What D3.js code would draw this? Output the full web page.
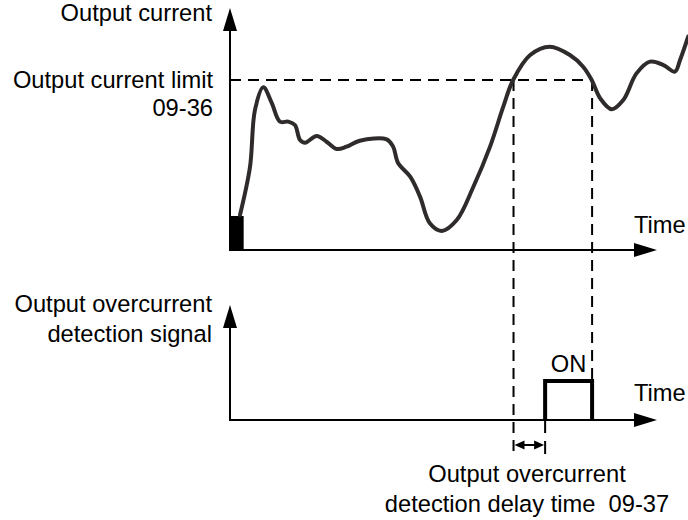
<!DOCTYPE html>
<html>
<head>
<meta charset="utf-8">
<script src="https://cdn.jsdelivr.net/npm/d3@7"></script>
<style>
  html, body { margin: 0; padding: 0; background: #fff; }
  svg text { font-family: "Liberation Sans", Arial, sans-serif; font-size: 23.7px; fill: #000; white-space: pre; }
</style>
</head>
<body>
<svg id="chart" width="688" height="520"></svg>
<script>
// Output current over time (percent of the current limit setting 09-36)
const currentTime  = [2.34, 4.68, 5.85, 7.8, 9.77, 11.7, 13.65, 15.2, 16.4, 17.6, 20.3, 22.6, 25.0, 27.3, 30.4, 36.7, 38.2, 39.4, 42.2, 44.5, 46.8, 49.6, 53.1, 57.0, 60.9, 64.0, 66.3, 70.3, 74.9, 79.6, 82.7, 84.7, 86.7, 89.4, 92.1, 95.2, 98.4, 101.5, 104.2, 105.4, 107.3];
const currentValue = [20.6, 48.8, 82.4, 95.7, 86.5, 75.5, 75.5, 73.5, 64.7, 63.1, 67.1, 63.7, 59.4, 60.8, 64.3, 65.1, 60.8, 51.0, 43.1, 31.4, 15.7, 11.2, 17.6, 37.2, 60.8, 84.3, 100, 114.7, 119.6, 114.7, 107.8, 100, 89.2, 82.8, 88.2, 103.9, 110.8, 108.8, 104.9, 111.8, 125.5];

const currentLimit = 100;          // 09-36
const startBlock = [0, 3.2, 20];   // t0, t1, level of the start-up block
const overLimitStart = 66.4;       // current rises above the limit
const overLimitEnd = 84.8;         // current falls back below the limit
const detectionDelay = 7.4;        // 09-37

// Overcurrent detection signal (0 = OFF, 1 = ON)
const signalTime  = [overLimitStart + detectionDelay, overLimitStart + detectionDelay, overLimitEnd, overLimitEnd];
const signalValue = [0, 1, 1, 0];

const svg = d3.select("#chart");

const x = d3.scaleLinear().domain([0, 100]).range([230, 657]);
const yCur = d3.scaleLinear().domain([0, 100]).range([250, 80]);
const ySig = d3.scaleLinear().domain([0, 1]).range([420, 381]);

const yCurTop = 8, ySigTop = 305;
const x0 = x(0), xEnd = x(100);

// arrowheads
function arrowUp(xp, tip) {
  svg.append("path").attr("d", `M${xp},${tip} L${xp - 7},${tip + 23} L${xp + 7},${tip + 23} Z`).attr("fill", "#000");
}
function arrowRight(tip, yp) {
  svg.append("path").attr("d", `M${tip},${yp} L${tip - 23},${yp - 7} L${tip - 23},${yp + 7} Z`).attr("fill", "#000");
}

// ---- top: output current ----
svg.append("line").attr("x1", x0).attr("x2", x0).attr("y1", yCur(0) + 1).attr("y2", yCurTop + 20)
  .attr("stroke", "#000").attr("stroke-width", 2);
svg.append("line").attr("x1", x0 - 1).attr("x2", xEnd - 20).attr("y1", yCur(0)).attr("y2", yCur(0))
  .attr("stroke", "#000").attr("stroke-width", 2);
arrowUp(x0, yCurTop);
arrowRight(xEnd, yCur(0));

// start-up block
svg.append("rect")
  .attr("x", x(startBlock[0]) - 1).attr("y", yCur(startBlock[2]))
  .attr("width", x(startBlock[1]) - x(startBlock[0]) + 1)
  .attr("height", yCur(0) - yCur(startBlock[2]))
  .attr("fill", "#000");

// current limit (dashed)
const dash = "11,7";
svg.append("line").attr("x1", x0).attr("x2", x(overLimitEnd)).attr("y1", yCur(currentLimit)).attr("y2", yCur(currentLimit))
  .attr("stroke", "#000").attr("stroke-width", 2).attr("stroke-dasharray", dash);

// vertical guides
svg.append("line").attr("x1", x(overLimitStart)).attr("x2", x(overLimitStart))
  .attr("y1", yCur(currentLimit)).attr("y2", 457)
  .attr("stroke", "#000").attr("stroke-width", 2).attr("stroke-dasharray", dash);
svg.append("line").attr("x1", x(overLimitEnd)).attr("x2", x(overLimitEnd))
  .attr("y1", yCur(currentLimit)).attr("y2", ySig(1) - 2)
  .attr("stroke", "#000").attr("stroke-width", 2).attr("stroke-dasharray", dash);
svg.append("line").attr("x1", x(signalTime[0])).attr("x2", x(signalTime[0]))
  .attr("y1", ySig(0)).attr("y2", 457)
  .attr("stroke", "#000").attr("stroke-width", 2).attr("stroke-dasharray", "13,8");

// current curve
const pts = currentTime.map((t, i) => [t, currentValue[i]]);
const line = d3.line().x(d => x(d[0])).y(d => yCur(d[1])).curve(d3.curveCatmullRom.alpha(0.5));
svg.append("path").attr("d", line(pts)).attr("fill", "none")
  .attr("stroke", "#2f2b2b").attr("stroke-width", 4).attr("stroke-linejoin", "round").attr("stroke-linecap", "round");

// ---- bottom: detection signal ----
svg.append("line").attr("x1", x0).attr("x2", x0).attr("y1", ySig(0) + 1).attr("y2", ySigTop + 20)
  .attr("stroke", "#000").attr("stroke-width", 2);
svg.append("line").attr("x1", x0 - 1).attr("x2", xEnd - 20).attr("y1", ySig(0)).attr("y2", ySig(0))
  .attr("stroke", "#000").attr("stroke-width", 2);
arrowUp(x0, ySigTop);
arrowRight(xEnd, ySig(0));

const sig = signalTime.map((t, i) => [t, signalValue[i]]);
svg.append("path").attr("d", d3.line().x(d => x(d[0])).y(d => ySig(d[1]))(sig))
  .attr("fill", "none").attr("stroke", "#000").attr("stroke-width", 4).attr("stroke-linejoin", "miter");

// delay-time double arrow
const ya = 445;
const xa1 = x(overLimitStart) + 1, xa2 = x(signalTime[0]) - 1;
svg.append("line").attr("x1", xa1 + 6).attr("x2", xa2 - 6).attr("y1", ya).attr("y2", ya)
  .attr("stroke", "#000").attr("stroke-width", 2);
svg.append("path").attr("d", `M${xa1},${ya} L${xa1 + 10},${ya - 4.5} L${xa1 + 10},${ya + 4.5} Z`).attr("fill", "#000");
svg.append("path").attr("d", `M${xa2},${ya} L${xa2 - 10},${ya - 4.5} L${xa2 - 10},${ya + 4.5} Z`).attr("fill", "#000");

// ---- labels ----
function label(txt, xp, yp, anchor) {
  svg.append("text").attr("x", xp).attr("y", yp).attr("text-anchor", anchor).text(txt);
}
label("Output current", 212, 21, "end");
label("Output current limit", 213, 88, "end");
label("09-36", 213, 116, "end");
label("Time", 634, 233, "start");
label("Output overcurrent", 212, 312, "end");
label("detection signal", 212, 342, "end");
label("ON", (x(signalTime[0]) + x(overLimitEnd)) / 2, 372, "middle");
label("Time", 634, 401, "start");
label("Output overcurrent", 527, 482, "middle");
label("detection delay time  09-37", 527, 512, "middle");
</script>
</body>
</html>
